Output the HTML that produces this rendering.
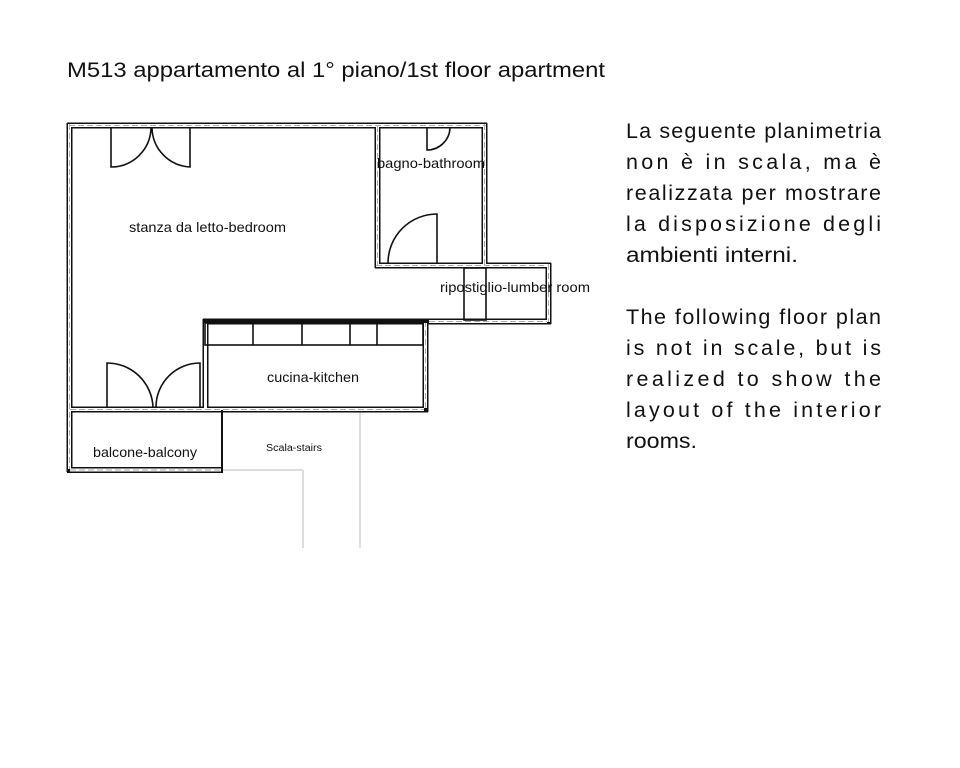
<!DOCTYPE html>
<html><head><meta charset="utf-8"><style>
html,body{margin:0;padding:0;background:#fff;width:960px;height:768px;overflow:hidden}
svg{display:block}
text{font-family:"Liberation Sans",sans-serif;fill:#111}
</style></head><body>
<svg width="960" height="768" viewBox="0 0 960 768">
<text x="67" y="77" font-size="21" textLength="538" lengthAdjust="spacingAndGlyphs">M513 appartamento al 1° piano/1st floor apartment</text>
<g font-size="21.5">
<text x="626" y="138" textLength="255" lengthAdjust="spacing">La seguente planimetria</text>
<text x="626" y="169" textLength="255" lengthAdjust="spacing">non è in scala, ma è</text>
<text x="626" y="200" textLength="255" lengthAdjust="spacing">realizzata per mostrare</text>
<text x="626" y="231" textLength="255" lengthAdjust="spacing">la disposizione degli</text>
<text x="626" y="262" textLength="172" lengthAdjust="spacingAndGlyphs">ambienti interni.</text>
<text x="626" y="324" textLength="255" lengthAdjust="spacing">The following floor plan</text>
<text x="626" y="355" textLength="255" lengthAdjust="spacing">is not in scale, but is</text>
<text x="626" y="386" textLength="255" lengthAdjust="spacing">realized to show the</text>
<text x="626" y="417" textLength="255" lengthAdjust="spacing">layout of the interior</text>
<text x="626" y="448" textLength="71" lengthAdjust="spacingAndGlyphs">rooms.</text>
</g>
<g stroke="#ddd" stroke-width="2" fill="none">
<line x1="360" y1="412" x2="360" y2="548"/>
<line x1="303" y1="470" x2="303" y2="548"/>
<line x1="223" y1="470" x2="303" y2="470"/>
</g>
<g fill="none" stroke-linecap="butt">
<g stroke="#111" stroke-width="6">
<path d="M67,125.5H487M69.5,123V472M484.5,123V268M377.5,123V268M375,265.5H551M548.5,263V324M425,321.5H551M425.5,319V412M203,321.5H428M205.5,319V412M67,409.5H428M67,470H223"/>
</g>
<g stroke="#fff" stroke-width="3">
<path d="M69,125.5H486M69.5,124V469M484.5,124V265M377.5,124V265M376,265.5H547M548.5,264V322M429,321.5H547M425.5,321V408M206,321.5H427M205.5,321V408M70,409.5H424M70,470H222"/>
</g>
<g stroke="#aaa" stroke-width="1" stroke-dasharray="6,3">
<path d="M69,125.5H486M69.5,124V469M484.5,124V265M377.5,126V265M376,265.5H547M548.5,264V322M429,321.5H547M425.5,321V408M70,409.5H424M70,470H222"/>
</g>
<line x1="203" y1="321" x2="428" y2="321" stroke="#111" stroke-width="4"/>
<line x1="222" y1="410" x2="222" y2="472" stroke="#111" stroke-width="2"/>
</g>
<g fill="none" stroke="#111" stroke-width="1.6">
<path d="M111,128V167A40,40 0 0 0 151,128"/>
<path d="M190,128V167A40,40 0 0 1 152,128"/>
<path d="M427,128V150A23,23 0 0 0 450,128"/>
<path d="M437,263V214A49,49 0 0 0 388,263"/>
<path d="M107,407V363A46,46 0 0 1 153,407"/>
<path d="M200,407V363A44,44 0 0 0 156,407"/>
<rect x="205" y="323" width="218" height="22"/>
<path d="M253,323V345M302,323V345M350,323V345M377,323V345"/>
<rect x="464" y="268" width="22" height="52"/>
</g>
<g font-size="14">
<text x="129" y="232" textLength="157" lengthAdjust="spacingAndGlyphs">stanza da letto-bedroom</text>
<text x="377" y="168" textLength="108" lengthAdjust="spacingAndGlyphs">bagno-bathroom</text>
<text x="440" y="292" textLength="150" lengthAdjust="spacingAndGlyphs">ripostiglio-lumber room</text>
<text x="267" y="382" textLength="92" lengthAdjust="spacingAndGlyphs">cucina-kitchen</text>
<text x="93" y="457" textLength="104" lengthAdjust="spacingAndGlyphs">balcone-balcony</text>
<text x="266" y="451" font-size="10" textLength="56" lengthAdjust="spacingAndGlyphs">Scala-stairs</text>
</g>
</svg>
</body></html>
